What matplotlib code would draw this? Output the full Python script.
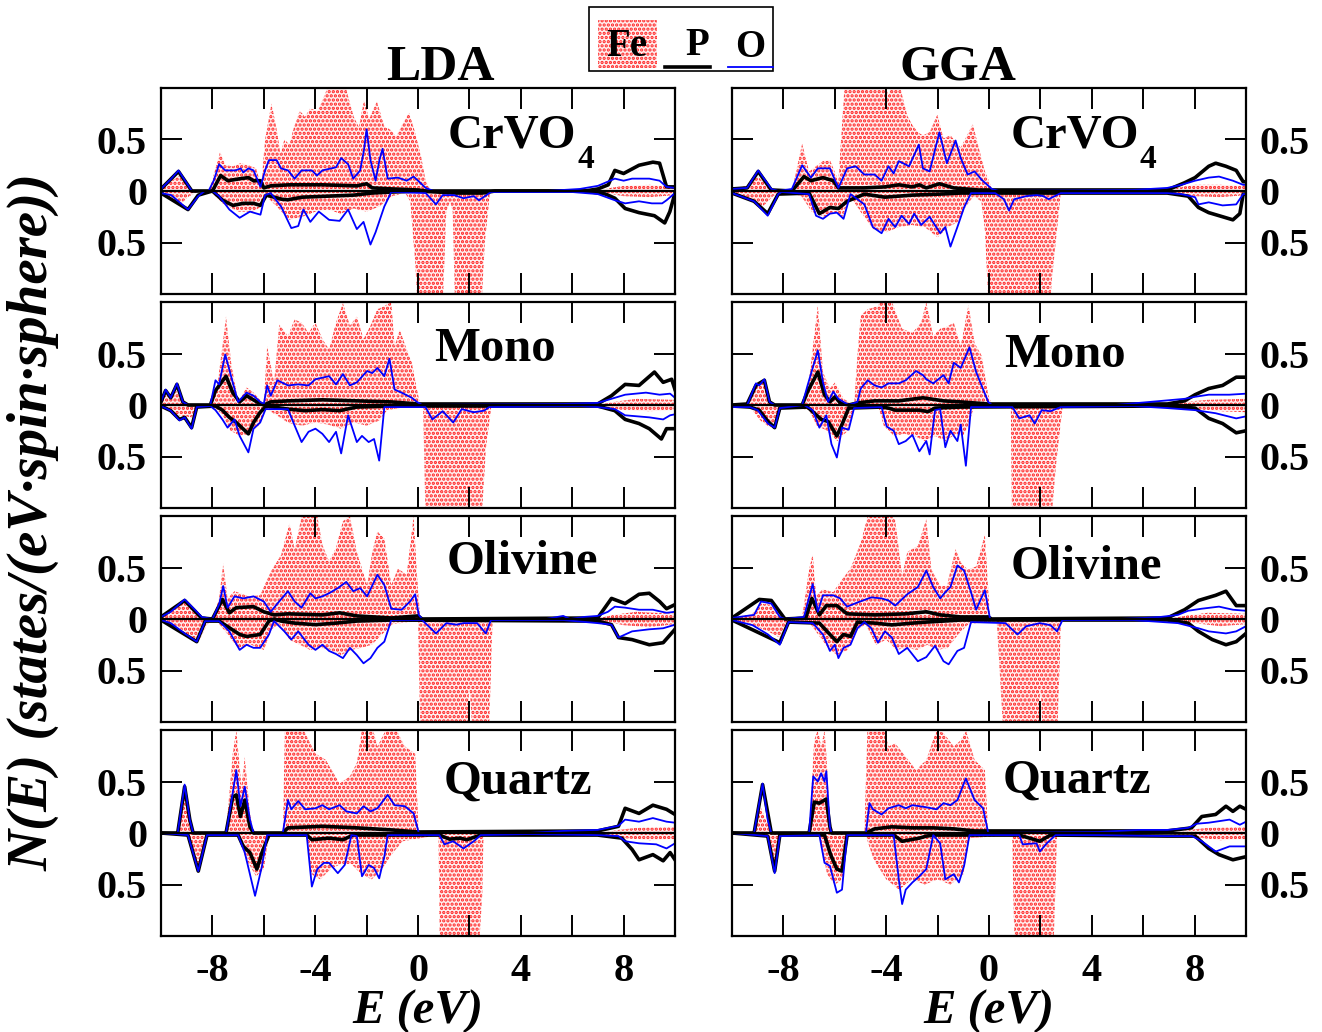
import matplotlib
matplotlib.use("Agg")
import matplotlib.pyplot as plt
import numpy as np
from matplotlib.patches import Rectangle

plt.rcParams.update({"font.family": "Liberation Serif", "font.weight": "bold",
                     "hatch.linewidth": 1.6, "axes.linewidth": 1.5})

# ---- projected DOS, (E [eV], states) pairs; spin-down given as magnitudes ----
# LDA / CrVO4
LDA_CRVO4_FE_UP = [(-10, 0.02), (-9.7, 0.08), (-9.3, 0.15), (-8.9, 0.02), (-8.5, 0), (-8.1, 0.02), (-7.9, 0.2), (-7.7, 0.38), (-7.5, 0.25), (-7.2, 0.24), (-6.9, 0.27), (-6.6, 0.25), (-6.3, 0.22), (-6.1, 0.05), (-5.95, 0.5), (-5.7, 0.85), (-5.5, 0.6), (-5.35, 0.36), (-5.2, 0.5), (-5.0, 0.45), (-4.85, 0.6), (-4.6, 0.78), (-4.4, 0.72), (-4.2, 0.8), (-3.9, 0.78), (-3.6, 0.95), (-3.3, 1.2), (-3.0, 1.2), (-2.7, 0.9), (-2.5, 0.72), (-2.3, 0.62), (-2.1, 0.88), (-1.9, 0.7), (-1.6, 0.87), (-1.3, 0.62), (-1.1, 0.6), (-0.85, 0.53), (-0.6, 0.65), (-0.35, 0.76), (-0.15, 0.6), (0.1, 0.36), (0.3, 0.1), (0.5, 0), (7.0, 0), (7.5, 0.03), (8.0, 0.05), (9.0, 0.06), (10, 0.04)]
LDA_CRVO4_FE_DN = [(-10, 0.02), (-9.3, 0.14), (-8.9, 0.05), (-8.5, 0), (-8.0, 0.02), (-7.6, 0.12), (-7.0, 0.2), (-6.4, 0.2), (-6.1, 0.15), (-5.9, 0.05), (-5.5, 0.15), (-5.0, 0.28), (-4.5, 0.25), (-4.0, 0.2), (-3.5, 0.18), (-3.0, 0.22), (-2.5, 0.17), (-2.0, 0.2), (-1.5, 0.15), (-1.0, 0.05), (-0.5, 0.02), (-0.3, 0.1), (-0.1, 0.72), (0.0, 1.2), (0.95, 1.2), (1.1, 0.2), (1.25, 0.1), (1.35, 0.2), (1.45, 1.2), (2.45, 1.2), (2.6, 0.5), (2.8, 0.02), (3.0, 0), (7.0, 0.01), (8.0, 0.05), (9.0, 0.06), (10, 0.04)]
LDA_CRVO4_P_UP = [(-10, 0.02), (-9.32, 0.19), (-8.8, 0), (-8.0, 0), (-7.68, 0.15), (-7.4, 0.1), (-6.9, 0.12), (-6.6, 0.13), (-6.4, 0.1), (-6.13, 0.1), (-6.0, 0.03), (-5.73, 0.05), (-5.0, 0.06), (-3.72, 0.06), (-2.38, 0.05), (-2.0, 0.07), (-1.78, 0.03), (-1.0, 0.02), (0, 0.01), (0.3, 0), (6.5, 0), (7.0, 0.02), (7.4, 0.06), (7.66, 0.2), (8.0, 0.17), (8.6, 0.25), (9.14, 0.28), (9.4, 0.27), (9.67, 0.04), (10, 0.04)]
LDA_CRVO4_P_DN = [(-10, 0.02), (-8.95, 0.18), (-8.55, 0.04), (-8.0, 0), (-7.6, 0.09), (-7.2, 0.14), (-6.8, 0.12), (-6.4, 0.12), (-6.13, 0.14), (-5.9, 0.04), (-5.3, 0.08), (-5.06, 0.085), (-4.5, 0.06), (-3.5, 0.05), (-2.5, 0.04), (-1.8, 0.02), (-1.0, 0.01), (0, 0), (1.5, 0.02), (2.5, 0.02), (3.0, 0), (6.5, 0), (7.3, 0.03), (7.66, 0.07), (8.06, 0.17), (8.6, 0.21), (9.2, 0.24), (9.6, 0.31), (9.8, 0.2), (10, 0.02)]
LDA_CRVO4_O_UP = [(-10, 0.02), (-9.6, 0.12), (-9.32, 0.2), (-8.8, 0), (-8.15, 0), (-7.95, 0.1), (-7.74, 0.26), (-7.5, 0.2), (-7.1, 0.2), (-6.9, 0.22), (-6.8, 0.18), (-6.6, 0.22), (-6.4, 0.2), (-6.13, 0.04), (-5.95, 0.2), (-5.8, 0.3), (-5.5, 0.3), (-5.33, 0.22), (-5.06, 0.2), (-4.8, 0.12), (-4.53, 0.2), (-4.13, 0.2), (-3.93, 0.15), (-3.72, 0.2), (-3.19, 0.23), (-2.99, 0.32), (-2.72, 0.26), (-2.52, 0.12), (-2.25, 0.2), (-2.1, 0.4), (-2.0, 0.6), (-1.85, 0.3), (-1.65, 0.1), (-1.5, 0.3), (-1.38, 0.41), (-1.18, 0.12), (-0.78, 0.13), (-0.44, 0.1), (-0.17, 0.14), (0.3, 0.03), (0.6, 0), (5.0, 0), (6.3, 0.02), (7.0, 0.05), (7.66, 0.12), (8.0, 0.1), (8.33, 0.12), (9.0, 0.12), (9.4, 0.1), (9.67, 0.04), (10, 0.03)]
LDA_CRVO4_O_DN = [(-10, 0.02), (-9.6, 0.04), (-8.95, 0.18), (-8.55, 0.05), (-8.3, 0), (-8.0, 0), (-7.74, 0.05), (-7.34, 0.18), (-6.94, 0.26), (-6.54, 0.2), (-6.13, 0.23), (-5.95, 0.04), (-5.73, 0.02), (-5.33, 0.15), (-4.93, 0.36), (-4.66, 0.34), (-4.46, 0.18), (-4.19, 0.3), (-3.86, 0.2), (-3.46, 0.28), (-3.05, 0.29), (-2.72, 0.18), (-2.38, 0.37), (-2.12, 0.3), (-1.85, 0.52), (-1.65, 0.4), (-1.31, 0.15), (-1.04, 0.01), (0.3, 0.02), (0.7, 0.13), (0.96, 0.04), (1.4, 0.04), (1.77, 0.07), (2.17, 0.05), (2.37, 0.09), (2.84, 0.01), (6.0, 0.01), (7.0, 0.03), (7.66, 0.09), (8.06, 0.12), (8.6, 0.1), (9.1, 0.12), (9.5, 0.12), (9.67, 0.09), (10, 0.02)]

# GGA / CrVO4
GGA_CRVO4_FE_UP = [(-10, 0.02), (-9.4, 0.05), (-9.0, 0.14), (-8.5, 0.03), (-8.2, 0), (-7.67, 0), (-7.27, 0.46), (-7.0, 0.19), (-6.73, 0.24), (-6.46, 0.29), (-6.19, 0.3), (-5.86, 0.1), (-5.6, 1.1), (-5.12, 1.2), (-4.32, 1.2), (-3.91, 0.93), (-3.65, 1.2), (-3.38, 0.93), (-3.18, 0.73), (-2.98, 0.64), (-2.77, 0.57), (-2.57, 0.54), (-2.31, 0.57), (-2.01, 0.74), (-1.77, 0.51), (-1.5, 0.54), (-1.1, 0.42), (-0.63, 0.65), (-0.43, 0.45), (-0.16, 0.19), (0.11, 0.03), (0.24, 0), (6.9, 0), (7.5, 0.04), (8.0, 0.06), (9.0, 0.06), (10, 0.05)]
GGA_CRVO4_FE_DN = [(-10, 0.02), (-9.4, 0.06), (-8.8, 0.15), (-8.4, 0.05), (-8.0, 0), (-7.3, 0.05), (-6.9, 0.2), (-6.4, 0.25), (-6.0, 0.2), (-5.7, 0.25), (-5.4, 0.05), (-5.0, 0.2), (-4.5, 0.37), (-4.0, 0.4), (-3.5, 0.35), (-3.0, 0.33), (-2.5, 0.35), (-2.0, 0.45), (-1.6, 0.35), (-1.2, 0.3), (-0.9, 0.15), (-0.6, 0.05), (-0.3, 0.1), (-0.16, 0.38), (0.0, 1.2), (2.35, 1.2), (2.45, 0.85), (2.79, 0.03), (3.0, 0), (7.0, 0.01), (8.0, 0.05), (9.0, 0.06), (10, 0.04)]
GGA_CRVO4_P_UP = [(-10, 0.02), (-9.41, 0.03), (-8.98, 0.19), (-8.47, 0.01), (-7.67, 0), (-7.2, 0.14), (-6.93, 0.1), (-6.46, 0.13), (-6.06, 0.1), (-5.86, 0.03), (-5.52, 0.03), (-4.85, 0.03), (-4.05, 0.04), (-3.51, 0.06), (-2.98, 0.04), (-2.71, 0.06), (-2.44, 0.03), (-1.93, 0.07), (-1.37, 0.03), (-0.43, 0.01), (6.94, 0.01), (7.61, 0.08), (8.02, 0.13), (8.55, 0.24), (8.82, 0.27), (9.22, 0.24), (9.62, 0.2), (9.89, 0.09), (10, 0.09)]
GGA_CRVO4_P_DN = [(-10, 0.02), (-9.14, 0.1), (-8.61, 0.22), (-8.2, 0.03), (-7.0, 0.02), (-6.6, 0.22), (-6.19, 0.16), (-5.86, 0.17), (-5.52, 0.1), (-4.85, 0.03), (-4.05, 0.06), (-2.98, 0.04), (-1.9, 0.03), (-1.1, 0.02), (6.94, 0.02), (7.75, 0.05), (8.15, 0.16), (8.55, 0.21), (9.09, 0.25), (9.49, 0.28), (9.76, 0.22), (9.89, 0.03), (10, 0.03)]
GGA_CRVO4_O_UP = [(-10, 0.02), (-9.41, 0.03), (-8.98, 0.2), (-8.47, 0.02), (-8.2, 0), (-7.67, 0.02), (-7.27, 0.25), (-6.93, 0.13), (-6.66, 0.22), (-6.19, 0.22), (-5.86, 0.03), (-5.52, 0.22), (-5.19, 0.24), (-4.85, 0.16), (-4.45, 0.16), (-4.18, 0.1), (-3.91, 0.24), (-3.71, 0.17), (-3.51, 0.29), (-3.11, 0.24), (-2.73, 0.45), (-2.57, 0.22), (-2.31, 0.19), (-1.93, 0.57), (-1.64, 0.27), (-1.3, 0.49), (-1.1, 0.32), (-0.83, 0.16), (-0.56, 0.19), (-0.29, 0.11), (0.11, 0.02), (0.38, 0), (5.6, 0.01), (6.94, 0.03), (7.48, 0.06), (8.02, 0.1), (8.55, 0.13), (8.95, 0.14), (9.49, 0.1), (9.89, 0.06), (10, 0.06)]
GGA_CRVO4_O_DN = [(-10, 0.02), (-9.14, 0.1), (-8.61, 0.24), (-8.2, 0.03), (-8.07, 0.01), (-7.0, 0.03), (-6.73, 0.24), (-6.46, 0.27), (-6.19, 0.22), (-5.92, 0.21), (-5.66, 0.27), (-5.39, 0.03), (-4.85, 0.13), (-4.52, 0.35), (-4.18, 0.41), (-3.91, 0.27), (-3.65, 0.35), (-3.4, 0.24), (-3.11, 0.32), (-2.91, 0.22), (-2.64, 0.33), (-2.31, 0.25), (-1.9, 0.41), (-1.7, 0.35), (-1.5, 0.54), (-1.23, 0.35), (-0.97, 0.16), (-0.7, 0.02), (0.24, 0.02), (0.58, 0.08), (0.78, 0.19), (0.98, 0.08), (1.45, 0.05), (1.85, 0.04), (2.12, 0.05), (2.32, 0.08), (2.79, 0.02), (6.94, 0.02), (7.48, 0.03), (8.02, 0.06), (8.15, 0.13), (8.55, 0.11), (9.09, 0.14), (9.62, 0.13), (9.89, 0.03), (10, 0.03)]

# LDA / Mono
LDA_MONO_FE_UP = [(-10, 0.03), (-9.8, 0.1), (-9.6, 0.06), (-9.4, 0.14), (-9.1, 0.02), (-8.9, 0), (-8.08, 0), (-7.81, 0.19), (-7.61, 0.57), (-7.47, 0.86), (-7.27, 0.41), (-7.0, 0.03), (-6.67, 0.17), (-6.4, 0.12), (-6.0, 0.01), (-5.87, 0.57), (-5.6, 0.22), (-5.4, 0.78), (-5.06, 0.67), (-4.8, 0.83), (-4.53, 0.8), (-4.26, 0.7), (-3.99, 0.8), (-3.72, 0.64), (-3.46, 0.54), (-3.19, 0.8), (-2.92, 0.99), (-2.65, 0.77), (-2.38, 0.86), (-2.12, 0.64), (-1.85, 0.77), (-1.58, 0.93), (-1.31, 0.96), (-1.04, 1.0), (-0.91, 0.57), (-0.71, 0.73), (-0.44, 0.54), (-0.24, 0.41), (-0.04, 0.15), (0.09, 0), (7.0, 0), (7.6, 0.03), (8.5, 0.06), (10, 0.05)]
LDA_MONO_FE_DN = [(-10, 0.02), (-9.3, 0.1), (-8.8, 0.12), (-8.6, 0.02), (-8.0, 0), (-7.6, 0.1), (-7.3, 0.25), (-6.9, 0.3), (-6.6, 0.28), (-6.2, 0.2), (-5.95, 0.03), (-5.5, 0.1), (-5.0, 0.18), (-4.5, 0.2), (-4.0, 0.17), (-3.5, 0.19), (-3.0, 0.23), (-2.5, 0.17), (-2.0, 0.2), (-1.5, 0.15), (-1.2, 0.05), (-0.5, 0.02), (0.2, 0.03), (0.3, 1.2), (1.9, 1.2), (2.0, 0.8), (2.1, 1.2), (2.45, 1.2), (2.65, 0.4), (2.85, 0.02), (3.0, 0), (7.0, 0.01), (8.0, 0.05), (9.0, 0.06), (10, 0.05)]
LDA_MONO_P_UP = [(-10, 0.03), (-9.82, 0.14), (-9.62, 0.07), (-9.38, 0.2), (-9.15, 0.03), (-8.95, 0), (-8.08, 0), (-7.88, 0.14), (-7.47, 0.28), (-7.21, 0.12), (-6.94, 0.03), (-6.67, 0.09), (-6.27, 0.03), (-6.0, 0), (-5.73, 0.03), (-5.06, 0.04), (-3.72, 0.05), (-2.38, 0.04), (-1.04, 0.03), (0, 0.01), (6.99, 0.01), (7.53, 0.09), (8.06, 0.2), (8.6, 0.19), (9.2, 0.32), (9.54, 0.22), (9.87, 0.25), (10, 0.15)]
LDA_MONO_P_DN = [(-10, 0.01), (-9.62, 0.055), (-9.28, 0.14), (-9.08, 0.12), (-8.81, 0.22), (-8.61, 0.02), (-7.88, 0.01), (-7.61, 0.05), (-7.34, 0.12), (-7.07, 0.17), (-6.6, 0.28), (-6.4, 0.17), (-6.14, 0.07), (-5.9, 0.01), (-5.06, 0.04), (-4.39, 0.055), (-3.72, 0.045), (-3.05, 0.055), (-2.38, 0.02), (-1.04, 0.01), (6.99, 0.01), (7.66, 0.055), (8.06, 0.14), (8.6, 0.18), (9.0, 0.23), (9.47, 0.33), (9.67, 0.23), (10, 0.23)]
LDA_MONO_O_UP = [(-10, 0.03), (-9.82, 0.15), (-9.62, 0.07), (-9.38, 0.21), (-9.15, 0.03), (-8.95, 0), (-8.08, 0), (-7.88, 0.24), (-7.74, 0.2), (-7.5, 0.49), (-7.21, 0.22), (-7.0, 0.03), (-6.67, 0.12), (-6.4, 0.09), (-6.14, 0.03), (-6.0, 0.01), (-5.87, 0.19), (-5.73, 0.09), (-5.47, 0.24), (-5.06, 0.19), (-4.66, 0.2), (-4.26, 0.19), (-3.99, 0.25), (-3.46, 0.28), (-3.19, 0.2), (-2.92, 0.3), (-2.65, 0.19), (-2.38, 0.22), (-1.98, 0.33), (-1.78, 0.31), (-1.58, 0.36), (-1.31, 0.28), (-1.11, 0.45), (-0.91, 0.15), (-0.64, 0.12), (-0.24, 0.07), (-0.04, 0.03), (0.16, 0), (5.65, 0.01), (6.99, 0.02), (7.66, 0.07), (8.06, 0.1), (8.87, 0.12), (9.4, 0.1), (9.81, 0.11), (10, 0.07)]
LDA_MONO_O_DN = [(-10, 0.01), (-9.62, 0.055), (-9.28, 0.15), (-9.08, 0.12), (-8.81, 0.23), (-8.61, 0.02), (-8.08, 0.01), (-7.88, 0.05), (-7.61, 0.14), (-7.41, 0.22), (-7.14, 0.14), (-6.94, 0.3), (-6.6, 0.46), (-6.4, 0.23), (-6.14, 0.17), (-5.93, 0.04), (-5.06, 0.04), (-4.8, 0.2), (-4.53, 0.36), (-4.26, 0.26), (-3.99, 0.23), (-3.72, 0.28), (-3.46, 0.36), (-3.19, 0.26), (-2.99, 0.47), (-2.72, 0.1), (-2.38, 0.36), (-2.18, 0.3), (-1.92, 0.36), (-1.71, 0.33), (-1.51, 0.54), (-1.31, 0.02), (0.29, 0.02), (0.56, 0.14), (0.96, 0.06), (1.37, 0.17), (1.7, 0.04), (2.17, 0.07), (2.57, 0.055), (2.77, 0.02), (6.32, 0.01), (6.99, 0.02), (7.66, 0.04), (8.06, 0.1), (9.0, 0.12), (9.54, 0.14), (9.81, 0.1), (10, 0.09)]

# GGA / Mono
GGA_MONO_FE_UP = [(-10, 0), (-9.4, 0), (-9.1, 0.18), (-8.8, 0.24), (-8.54, 0.05), (-8.34, 0), (-7.27, 0), (-7.0, 0.25), (-6.66, 0.97), (-6.46, 0.32), (-6.19, 0.16), (-5.99, 0.22), (-5.66, 0.06), (-5.25, 0), (-5.12, 0.48), (-4.99, 0.87), (-4.72, 0.93), (-4.32, 0.96), (-4.05, 1.1), (-3.78, 1.0), (-3.38, 0.74), (-2.98, 0.7), (-2.64, 0.8), (-2.44, 1.0), (-2.17, 0.67), (-1.9, 0.74), (-1.64, 0.76), (-1.37, 0.8), (-1.1, 0.57), (-0.8, 0.97), (-0.56, 0.6), (-0.29, 0.48), (-0.03, 0.1), (0.11, 0), (7.0, 0), (7.6, 0.03), (8.5, 0.05), (10, 0.06)]
GGA_MONO_FE_DN = [(-10, 0.01), (-9.3, 0.02), (-8.9, 0.15), (-8.5, 0.22), (-8.2, 0.1), (-8.0, 0), (-7.0, 0.05), (-6.7, 0.2), (-6.3, 0.25), (-5.9, 0.35), (-5.5, 0.25), (-5.25, 0.03), (-4.3, 0.02), (-4.1, 0.2), (-3.7, 0.3), (-3.3, 0.28), (-2.9, 0.3), (-2.5, 0.35), (-2.1, 0.3), (-1.7, 0.35), (-1.3, 0.28), (-1.0, 0.3), (-0.8, 0.2), (-0.6, 0.03), (0.85, 0.03), (0.9, 1.2), (2.4, 1.2), (2.6, 0.6), (2.86, 0.02), (3.0, 0), (7.0, 0.01), (8.0, 0.04), (9.0, 0.06), (10, 0.07)]
GGA_MONO_P_UP = [(-10, 0), (-9.41, 0.01), (-9.07, 0.19), (-8.74, 0.24), (-8.54, 0.03), (-8.34, 0), (-7.27, 0), (-7.06, 0.13), (-6.66, 0.32), (-6.4, 0.1), (-6.19, 0.03), (-5.99, 0.08), (-5.79, 0.02), (-5.46, 0), (-5.12, 0.02), (-4.45, 0.04), (-3.51, 0.04), (-2.57, 0.07), (-1.77, 0.04), (-1.1, 0.03), (-0.03, 0.01), (6.94, 0.01), (7.61, 0.04), (8.02, 0.1), (8.55, 0.16), (9.09, 0.19), (9.62, 0.27), (10, 0.27)]
GGA_MONO_P_DN = [(-10, 0.01), (-9.3, 0.02), (-8.94, 0.05), (-8.6, 0.16), (-8.34, 0.22), (-8.14, 0.03), (-7.06, 0.02), (-6.66, 0.11), (-6.53, 0.14), (-6.26, 0.16), (-5.92, 0.3), (-5.72, 0.19), (-5.46, 0.03), (-4.18, 0.02), (-3.91, 0.03), (-3.65, 0.05), (-3.24, 0.05), (-2.71, 0.05), (-2.37, 0.064), (-2.1, 0.03), (-1.1, 0.02), (6.94, 0.01), (8.02, 0.03), (8.55, 0.13), (9.09, 0.18), (9.62, 0.27), (10, 0.25)]
GGA_MONO_O_UP = [(-10, 0), (-9.41, 0), (-9.07, 0.21), (-8.94, 0.19), (-8.74, 0.25), (-8.54, 0.03), (-8.34, 0), (-7.27, 0), (-7.06, 0.19), (-6.66, 0.53), (-6.46, 0.22), (-6.26, 0.03), (-6.06, 0.13), (-5.86, 0.06), (-5.46, 0), (-5.12, 0.03), (-4.99, 0.16), (-4.72, 0.24), (-4.45, 0.19), (-4.18, 0.17), (-3.91, 0.21), (-3.51, 0.21), (-3.24, 0.24), (-2.84, 0.33), (-2.57, 0.29), (-2.44, 0.25), (-2.17, 0.21), (-1.77, 0.29), (-1.57, 0.21), (-1.37, 0.41), (-1.1, 0.36), (-0.76, 0.56), (-0.5, 0.32), (-0.29, 0.19), (-0.03, 0.03), (0.11, 0), (4.9, 0), (6.27, 0.03), (7.61, 0.06), (8.02, 0.08), (8.55, 0.1), (9.35, 0.1), (10, 0.11)]
GGA_MONO_O_DN = [(-10, 0.02), (-9.3, 0.02), (-9.0, 0.05), (-8.6, 0.18), (-8.34, 0.22), (-8.14, 0.03), (-7.2, 0), (-6.86, 0.05), (-6.6, 0.22), (-6.33, 0.1), (-6.13, 0.38), (-5.92, 0.51), (-5.72, 0.22), (-5.46, 0.24), (-5.25, 0.03), (-4.18, 0.02), (-3.98, 0.21), (-3.71, 0.25), (-3.51, 0.38), (-3.24, 0.35), (-2.98, 0.29), (-2.71, 0.45), (-2.44, 0.35), (-2.31, 0.48), (-2.1, 0.05), (-1.9, 0.04), (-1.7, 0.41), (-1.5, 0.25), (-1.23, 0.35), (-1.1, 0.19), (-0.9, 0.59), (-0.7, 0.02), (0.91, 0.02), (1.18, 0.13), (1.58, 0.1), (1.78, 0.18), (2.05, 0.05), (2.39, 0.06), (2.79, 0.02), (5.6, 0.01), (6.94, 0.03), (8.02, 0.05), (8.82, 0.08), (9.62, 0.13), (10, 0.11)]

# LDA / Olivine
LDA_OLIV_FE_UP = [(-10, 0.02), (-9.62, 0.06), (-9.1, 0.17), (-8.6, 0.05), (-8.4, 0), (-8.0, 0), (-7.74, 0.2), (-7.58, 0.54), (-7.41, 0.2), (-7.14, 0.27), (-6.6, 0.22), (-6.14, 0.23), (-5.73, 0.46), (-5.33, 0.62), (-5.0, 0.93), (-4.8, 0.68), (-4.53, 0.99), (-4.26, 1.1), (-3.99, 1.1), (-3.72, 0.72), (-3.46, 0.56), (-3.19, 0.69), (-2.92, 0.95), (-2.65, 1.0), (-2.38, 0.65), (-1.98, 0.33), (-1.78, 0.65), (-1.58, 0.85), (-1.31, 0.78), (-1.04, 0.33), (-0.78, 0.49), (-0.44, 0.43), (-0.17, 1.0), (-0.04, 0.43), (0.09, 0), (6.9, 0), (7.6, 0.04), (8.5, 0.07), (10, 0.05)]
LDA_OLIV_FE_DN = [(-10, 0.01), (-9.3, 0.08), (-8.9, 0.18), (-8.5, 0.2), (-8.2, 0.05), (-7.9, 0), (-7.5, 0.12), (-7.0, 0.28), (-6.5, 0.25), (-6.0, 0.3), (-5.7, 0.1), (-5.4, 0.05), (-5.0, 0.2), (-4.6, 0.25), (-4.2, 0.3), (-3.8, 0.28), (-3.4, 0.3), (-3.0, 0.35), (-2.6, 0.3), (-2.2, 0.28), (-1.8, 0.25), (-1.4, 0.15), (-1.0, 0.05), (0.0, 0.02), (0.1, 1.2), (1.9, 1.2), (2.0, 0.65), (2.15, 1.2), (2.75, 1.2), (2.9, 0.02), (3.0, 0), (7.0, 0.01), (8.0, 0.06), (9.0, 0.08), (10, 0.05)]
LDA_OLIV_P_UP = [(-10, 0.02), (-9.08, 0.18), (-8.42, 0.01), (-8.0, 0), (-7.61, 0.19), (-7.34, 0.06), (-7.07, 0.11), (-6.4, 0.12), (-6.0, 0.07), (-5.6, 0.04), (-5.06, 0.05), (-3.72, 0.04), (-3.05, 0.06), (-2.38, 0.03), (-1.04, 0.01), (0, 0.03), (0.16, 0), (6.99, 0.01), (7.53, 0.2), (8.06, 0.15), (8.6, 0.24), (9.0, 0.25), (9.4, 0.17), (9.67, 0.1), (10, 0.14)]
LDA_OLIV_P_DN = [(-10, 0.01), (-8.61, 0.22), (-8.28, 0.02), (-7.74, 0.02), (-6.94, 0.15), (-6.67, 0.17), (-6.14, 0.15), (-5.8, 0.02), (-5.6, 0), (-5.33, 0.02), (-4.8, 0.04), (-3.99, 0.055), (-3.19, 0.04), (-2.38, 0.02), (-1.04, 0.01), (6.99, 0.02), (7.53, 0.055), (7.8, 0.18), (8.33, 0.2), (9.0, 0.25), (9.54, 0.23), (10, 0.1)]
LDA_OLIV_O_UP = [(-10, 0.02), (-9.62, 0.07), (-9.08, 0.19), (-8.68, 0.09), (-8.42, 0.02), (-8.0, 0), (-7.74, 0.14), (-7.58, 0.32), (-7.41, 0.11), (-7.14, 0.22), (-6.8, 0.2), (-6.4, 0.22), (-6.0, 0.17), (-5.73, 0.07), (-5.47, 0.15), (-5.06, 0.27), (-4.8, 0.17), (-4.53, 0.11), (-4.19, 0.25), (-3.99, 0.2), (-3.72, 0.22), (-3.46, 0.25), (-3.12, 0.3), (-2.79, 0.36), (-2.52, 0.27), (-2.25, 0.3), (-1.98, 0.22), (-1.58, 0.43), (-1.31, 0.33), (-1.04, 0.1), (-0.64, 0.09), (-0.31, 0.17), (-0.11, 0.24), (0.03, 0.04), (0.16, 0), (4.98, 0), (5.65, 0.03), (5.92, 0), (6.46, 0.02), (6.99, 0.03), (7.39, 0.07), (7.66, 0.12), (8.06, 0.11), (8.6, 0.09), (9.14, 0.09), (9.67, 0.06), (10, 0.07)]
LDA_OLIV_O_DN = [(-10, 0.01), (-9.62, 0.04), (-9.08, 0.14), (-8.61, 0.22), (-8.28, 0.02), (-7.74, 0.02), (-7.34, 0.12), (-6.94, 0.3), (-6.67, 0.25), (-6.4, 0.28), (-6.14, 0.28), (-5.8, 0.15), (-5.6, 0.02), (-5.2, 0.12), (-4.93, 0.2), (-4.66, 0.12), (-4.26, 0.25), (-3.99, 0.3), (-3.72, 0.25), (-3.46, 0.31), (-3.19, 0.34), (-2.92, 0.38), (-2.65, 0.28), (-2.38, 0.35), (-2.12, 0.43), (-1.85, 0.38), (-1.58, 0.28), (-1.31, 0.22), (-1.04, 0.01), (0.16, 0.01), (0.7, 0.14), (1.1, 0.04), (1.5, 0.055), (1.77, 0.04), (2.3, 0.04), (2.64, 0.14), (2.84, 0.01), (5.65, 0.01), (6.99, 0.04), (7.53, 0.055), (7.8, 0.18), (8.33, 0.12), (9.0, 0.1), (9.54, 0.09), (10, 0.055)]

# GGA / Olivine
GGA_OLIV_FE_UP = [(-10, 0.01), (-9.2, 0.05), (-8.9, 0.15), (-8.5, 0.14), (-8.1, 0.02), (-7.9, 0), (-7.27, 0.02), (-7.0, 0.48), (-6.86, 0.63), (-6.73, 0.23), (-6.46, 0.29), (-6.06, 0.26), (-5.79, 0.36), (-5.39, 0.49), (-4.99, 0.74), (-4.72, 1.0), (-4.18, 1.1), (-3.65, 0.96), (-3.38, 0.42), (-3.18, 0.65), (-2.77, 0.71), (-2.44, 0.97), (-2.24, 0.48), (-1.9, 0.32), (-1.64, 0.32), (-1.3, 0.68), (-1.1, 0.55), (-0.83, 0.48), (-0.5, 0.51), (-0.16, 0.82), (0.04, 0), (7.0, 0), (7.6, 0.03), (8.5, 0.06), (10, 0.05)]
GGA_OLIV_FE_DN = [(-10, 0.01), (-9.2, 0.06), (-8.6, 0.12), (-8.14, 0.18), (-7.8, 0.02), (-7.0, 0.03), (-6.5, 0.2), (-6.2, 0.3), (-5.9, 0.35), (-5.5, 0.3), (-5.1, 0.1), (-4.8, 0.05), (-4.4, 0.25), (-4.0, 0.2), (-3.6, 0.3), (-3.2, 0.28), (-2.8, 0.3), (-2.4, 0.25), (-2.0, 0.3), (-1.6, 0.28), (-1.2, 0.15), (-0.8, 0.05), (0.3, 0.02), (0.58, 1.2), (1.95, 1.2), (2.0, 0.62), (2.1, 1.2), (2.65, 1.2), (2.8, 0.02), (3.0, 0), (7.0, 0.01), (8.0, 0.04), (9.0, 0.07), (10, 0.05)]
GGA_OLIV_P_UP = [(-10, 0.01), (-8.94, 0.19), (-8.47, 0.18), (-7.94, 0), (-7.13, 0.01), (-6.89, 0.2), (-6.6, 0.04), (-6.33, 0.13), (-5.92, 0.13), (-5.52, 0.05), (-4.45, 0.04), (-3.24, 0.05), (-2.44, 0.07), (-1.9, 0.04), (-1.1, 0.02), (-0.03, 0.02), (0.1, 0), (6.94, 0.01), (7.61, 0.09), (8.15, 0.18), (8.82, 0.23), (9.22, 0.27), (9.62, 0.13), (10, 0.13)]
GGA_OLIV_P_DN = [(-10, 0.01), (-8.14, 0.23), (-7.8, 0.03), (-6.6, 0.04), (-6.19, 0.15), (-5.92, 0.22), (-5.66, 0.15), (-5.39, 0.17), (-5.12, 0.03), (-4.45, 0.04), (-3.78, 0.057), (-2.98, 0.04), (-2.44, 0.03), (-1.1, 0.01), (6.94, 0.01), (7.75, 0.04), (8.15, 0.12), (8.69, 0.2), (9.22, 0.25), (9.62, 0.22), (10, 0.14)]
GGA_OLIV_O_UP = [(-10, 0.01), (-9.14, 0.04), (-8.87, 0.17), (-8.47, 0.15), (-8.14, 0.02), (-7.94, 0), (-7.2, 0.02), (-6.86, 0.34), (-6.66, 0.07), (-6.46, 0.23), (-6.06, 0.23), (-5.79, 0.2), (-5.52, 0.12), (-5.12, 0.16), (-4.58, 0.21), (-4.18, 0.2), (-3.91, 0.18), (-3.65, 0.13), (-3.18, 0.24), (-2.77, 0.31), (-2.44, 0.47), (-2.17, 0.31), (-1.9, 0.2), (-1.7, 0.26), (-1.5, 0.31), (-1.23, 0.52), (-0.97, 0.47), (-0.7, 0.26), (-0.5, 0.09), (-0.16, 0.28), (0.04, 0), (5.07, 0), (6.01, 0.01), (6.68, 0.02), (7.35, 0.04), (7.75, 0.08), (8.28, 0.1), (8.95, 0.12), (9.49, 0.09), (10, 0.08)]
GGA_OLIV_O_DN = [(-10, 0.01), (-9.2, 0.06), (-8.6, 0.15), (-8.14, 0.25), (-7.8, 0.03), (-6.86, 0.04), (-6.46, 0.15), (-6.19, 0.31), (-6.0, 0.25), (-5.86, 0.38), (-5.66, 0.28), (-5.39, 0.25), (-5.12, 0.09), (-4.85, 0.03), (-4.58, 0.09), (-4.32, 0.23), (-4.05, 0.12), (-3.78, 0.18), (-3.51, 0.34), (-3.18, 0.28), (-2.77, 0.41), (-2.44, 0.37), (-2.1, 0.26), (-1.77, 0.41), (-1.57, 0.44), (-1.23, 0.31), (-0.97, 0.28), (-0.7, 0.03), (0.64, 0.04), (1.11, 0.15), (1.45, 0.07), (1.98, 0.04), (2.39, 0.06), (2.65, 0.12), (2.86, 0.01), (5.6, 0.01), (7.35, 0.04), (8.15, 0.09), (8.55, 0.12), (9.22, 0.14), (9.62, 0.12), (10, 0.07)]

# LDA / Quartz
LDA_QUARTZ_FE_UP = [(-10, 0), (-9.35, 0), (-9.08, 0.35), (-8.82, 0), (-7.47, 0), (-7.21, 0.77), (-7.07, 1.0), (-6.87, 0.45), (-6.74, 0.74), (-6.54, 0.19), (-6.4, 0), (-5.26, 0), (-5.17, 1.1), (-4.66, 1.1), (-3.99, 0.77), (-3.59, 0.71), (-3.05, 0.48), (-2.65, 0.55), (-2.38, 0.68), (-2.12, 1.1), (-1.85, 1.1), (-1.58, 0.84), (-1.04, 1.1), (-0.51, 0.84), (-0.11, 0.77), (0.03, 0), (7.0, 0), (7.8, 0.03), (8.5, 0.05), (10, 0.06)]
LDA_QUARTZ_FE_DN = [(-10, 0), (-8.95, 0.02), (-8.55, 0.32), (-8.21, 0.02), (-7.0, 0.03), (-6.7, 0.25), (-6.3, 0.42), (-6.0, 0.35), (-5.8, 0.02), (-4.35, 0.02), (-4.15, 0.4), (-3.8, 0.45), (-3.4, 0.35), (-3.0, 0.3), (-2.6, 0.3), (-2.2, 0.4), (-1.8, 0.45), (-1.4, 0.35), (-1.0, 0.2), (-0.6, 0.08), (0.8, 0.02), (0.85, 1.2), (2.35, 1.2), (2.5, 0.6), (2.55, 0.02), (7.0, 0.01), (8.0, 0.05), (9.0, 0.07), (10, 0.06)]
LDA_QUARTZ_P_UP = [(-10, 0), (-9.35, 0), (-9.08, 0.45), (-8.88, 0.13), (-8.75, 0), (-7.47, 0), (-7.21, 0.35), (-7.07, 0.37), (-6.91, 0.16), (-6.74, 0.32), (-6.54, 0.06), (-6.4, 0), (-5.26, 0), (-5.06, 0.05), (-3.72, 0.065), (-2.38, 0.05), (-1.04, 0.03), (0.0, 0.01), (6.99, 0.02), (7.8, 0.065), (8.06, 0.24), (8.6, 0.19), (9.14, 0.27), (9.67, 0.23), (10, 0.18)]
LDA_QUARTZ_P_DN = [(-10, 0), (-8.95, 0.02), (-8.55, 0.37), (-8.21, 0.02), (-7.0, 0.02), (-6.8, 0.13), (-6.54, 0.19), (-6.27, 0.35), (-6.07, 0.19), (-5.8, 0.02), (-4.33, 0.02), (-4.13, 0.065), (-3.46, 0.05), (-2.92, 0.065), (-2.52, 0.02), (0.83, 0.02), (1.23, 0.06), (1.63, 0.05), (1.9, 0.065), (2.44, 0.02), (6.99, 0.02), (7.93, 0.05), (8.33, 0.16), (8.6, 0.26), (9.14, 0.21), (9.54, 0.27), (9.81, 0.19), (10, 0.26)]
LDA_QUARTZ_O_UP = [(-10, 0), (-9.35, 0), (-9.08, 0.47), (-8.88, 0.13), (-8.75, 0), (-7.47, 0), (-7.27, 0.29), (-7.07, 0.61), (-6.91, 0.26), (-6.74, 0.45), (-6.54, 0.13), (-6.4, 0), (-5.26, 0), (-5.06, 0.32), (-4.93, 0.23), (-4.66, 0.31), (-4.39, 0.23), (-3.99, 0.24), (-3.72, 0.27), (-3.46, 0.23), (-3.05, 0.27), (-2.79, 0.21), (-2.38, 0.19), (-2.12, 0.26), (-1.85, 0.21), (-1.58, 0.24), (-1.18, 0.37), (-0.91, 0.27), (-0.51, 0.26), (-0.17, 0.19), (0.03, 0), (4.31, 0), (5.65, 0.02), (6.99, 0.03), (7.8, 0.07), (8.06, 0.13), (8.6, 0.11), (9.14, 0.145), (9.67, 0.11), (10, 0.1)]
LDA_QUARTZ_O_DN = [(-10, 0), (-8.95, 0.02), (-8.55, 0.37), (-8.21, 0.02), (-7.0, 0.02), (-6.74, 0.19), (-6.34, 0.61), (-6.07, 0.32), (-5.87, 0.02), (-4.33, 0.02), (-4.13, 0.52), (-3.92, 0.35), (-3.66, 0.29), (-3.46, 0.29), (-3.12, 0.39), (-2.85, 0.31), (-2.59, 0.02), (-2.38, 0.03), (-2.18, 0.42), (-1.92, 0.31), (-1.71, 0.34), (-1.51, 0.44), (-1.31, 0.23), (-1.18, 0.02), (0.83, 0.02), (1.03, 0.11), (1.37, 0.08), (1.77, 0.15), (2.17, 0.08), (2.44, 0.02), (4.31, 0.01), (6.99, 0.02), (7.8, 0.03), (8.06, 0.08), (8.6, 0.1), (9.27, 0.11), (9.67, 0.15), (10, 0.1)]

# GGA / Quartz
GGA_QUARTZ_FE_UP = [(-10, 0), (-9.14, 0), (-8.9, 0.26), (-8.47, 0), (-7.0, 0), (-6.8, 0.9), (-6.66, 1.0), (-6.53, 0.84), (-6.4, 1.0), (-6.33, 0.77), (-6.19, 0.13), (-6.06, 0), (-4.85, 0), (-4.72, 1.1), (-4.18, 1.1), (-3.91, 0.84), (-3.65, 0.87), (-3.24, 0.74), (-2.84, 0.61), (-2.44, 0.71), (-2.04, 1.0), (-1.77, 0.97), (-1.37, 0.84), (-1.1, 0.9), (-0.9, 1.0), (-0.56, 0.71), (-0.16, 0.61), (-0.03, 0), (7.0, 0), (7.8, 0.03), (8.5, 0.05), (10, 0.06)]
GGA_QUARTZ_FE_DN = [(-10, 0), (-8.6, 0.03), (-8.34, 0.35), (-8.14, 0.03), (-6.6, 0.02), (-6.3, 0.4), (-6.0, 0.5), (-5.7, 0.45), (-5.52, 0.02), (-4.8, 0.02), (-4.5, 0.25), (-4.0, 0.45), (-3.5, 0.55), (-3.0, 0.45), (-2.5, 0.5), (-2.0, 0.45), (-1.5, 0.5), (-1.0, 0.4), (-0.76, 0.05), (0.9, 0.02), (1.0, 1.2), (2.5, 1.2), (2.65, 0.02), (7.0, 0.01), (8.0, 0.04), (9.0, 0.07), (10, 0.06)]
GGA_QUARTZ_P_UP = [(-10, 0), (-9.14, 0), (-8.81, 0.47), (-8.47, 0), (-7.0, 0), (-6.8, 0.3), (-6.6, 0.29), (-6.33, 0.33), (-6.19, 0.06), (-6.13, 0), (-4.79, 0), (-4.45, 0.04), (-3.78, 0.06), (-2.98, 0.05), (-2.17, 0.05), (-1.37, 0.04), (-0.56, 0.02), (6.94, 0.02), (7.88, 0.05), (8.28, 0.16), (8.82, 0.18), (9.22, 0.26), (9.49, 0.21), (9.76, 0.26), (10, 0.23)]
GGA_QUARTZ_P_DN = [(-10, 0), (-8.61, 0.03), (-8.34, 0.37), (-8.14, 0.02), (-6.4, 0.02), (-6.19, 0.19), (-6.13, 0.23), (-5.92, 0.35), (-5.72, 0.37), (-5.52, 0.02), (-3.71, 0.02), (-3.38, 0.08), (-2.71, 0.05), (-2.44, 0.03), (-2.17, 0.02), (1.18, 0.02), (1.31, 0.03), (1.98, 0.08), (2.39, 0.02), (6.94, 0.03), (8.02, 0.03), (8.55, 0.15), (8.95, 0.21), (9.49, 0.26), (10, 0.23)]
GGA_QUARTZ_O_UP = [(-10, 0), (-9.14, 0), (-8.81, 0.48), (-8.61, 0.13), (-8.47, 0), (-7.0, 0), (-6.84, 0.55), (-6.66, 0.5), (-6.53, 0.58), (-6.4, 0.5), (-6.33, 0.6), (-6.19, 0.06), (-6.13, 0), (-4.79, 0), (-4.65, 0.29), (-4.52, 0.23), (-4.18, 0.18), (-3.91, 0.24), (-3.51, 0.27), (-3.24, 0.24), (-2.98, 0.27), (-2.44, 0.25), (-2.04, 0.23), (-1.77, 0.29), (-1.5, 0.27), (-1.23, 0.32), (-0.9, 0.53), (-0.56, 0.32), (-0.23, 0.24), (-0.03, 0), (4.26, 0.01), (5.87, 0.03), (6.94, 0.03), (7.75, 0.05), (8.08, 0.09), (8.55, 0.1), (9.36, 0.13), (9.76, 0.08), (10, 0.11)]
GGA_QUARTZ_O_DN = [(-10, 0), (-8.61, 0.03), (-8.34, 0.39), (-8.14, 0.03), (-6.6, 0.02), (-6.4, 0.29), (-6.19, 0.32), (-5.92, 0.58), (-5.72, 0.55), (-5.52, 0.02), (-3.71, 0.02), (-3.51, 0.45), (-3.38, 0.69), (-3.24, 0.55), (-2.98, 0.48), (-2.71, 0.42), (-2.44, 0.35), (-2.17, 0.02), (-1.9, 0.1), (-1.7, 0.45), (-1.37, 0.4), (-1.17, 0.48), (-0.97, 0.32), (-0.76, 0.02), (1.18, 0.02), (1.31, 0.11), (1.85, 0.1), (1.98, 0.18), (2.25, 0.1), (2.59, 0.02), (4.26, 0.02), (6.94, 0.03), (7.9, 0.03), (8.28, 0.08), (8.82, 0.18), (9.36, 0.13), (10, 0.13)]

METHODS = ["LDA", "GGA"]
PHASES = ["CrVO4", "Mono", "Olivine", "Quartz"]
YTICKS = [-0.5, 0, 0.5]
YTICKLABELS = ["0.5", "0", "0.5"]
XTICKS = [-8, -4, 0, 4, 8]
XTICKS_MINOR = [-6, -2, 2, 6]

PDOS = {
    ("LDA", "CrVO4"): (LDA_CRVO4_FE_UP, LDA_CRVO4_FE_DN, LDA_CRVO4_P_UP, LDA_CRVO4_P_DN, LDA_CRVO4_O_UP, LDA_CRVO4_O_DN),
    ("GGA", "CrVO4"): (GGA_CRVO4_FE_UP, GGA_CRVO4_FE_DN, GGA_CRVO4_P_UP, GGA_CRVO4_P_DN, GGA_CRVO4_O_UP, GGA_CRVO4_O_DN),
    ("LDA", "Mono"): (LDA_MONO_FE_UP, LDA_MONO_FE_DN, LDA_MONO_P_UP, LDA_MONO_P_DN, LDA_MONO_O_UP, LDA_MONO_O_DN),
    ("GGA", "Mono"): (GGA_MONO_FE_UP, GGA_MONO_FE_DN, GGA_MONO_P_UP, GGA_MONO_P_DN, GGA_MONO_O_UP, GGA_MONO_O_DN),
    ("LDA", "Olivine"): (LDA_OLIV_FE_UP, LDA_OLIV_FE_DN, LDA_OLIV_P_UP, LDA_OLIV_P_DN, LDA_OLIV_O_UP, LDA_OLIV_O_DN),
    ("GGA", "Olivine"): (GGA_OLIV_FE_UP, GGA_OLIV_FE_DN, GGA_OLIV_P_UP, GGA_OLIV_P_DN, GGA_OLIV_O_UP, GGA_OLIV_O_DN),
    ("LDA", "Quartz"): (LDA_QUARTZ_FE_UP, LDA_QUARTZ_FE_DN, LDA_QUARTZ_P_UP, LDA_QUARTZ_P_DN, LDA_QUARTZ_O_UP, LDA_QUARTZ_O_DN),
    ("GGA", "Quartz"): (GGA_QUARTZ_FE_UP, GGA_QUARTZ_FE_DN, GGA_QUARTZ_P_UP, GGA_QUARTZ_P_DN, GGA_QUARTZ_O_UP, GGA_QUARTZ_O_DN),
}
# label placement (axes fraction, baseline)
LABEL_POS = {
    ("LDA", "CrVO4"): (0.558, 0.712), ("GGA", "CrVO4"): (0.543, 0.712),
    ("LDA", "Mono"): (0.531, 0.715), ("GGA", "Mono"): (0.529, 0.683),
    ("LDA", "Olivine"): (0.555, 0.72), ("GGA", "Olivine"): (0.543, 0.693),
    ("LDA", "Quartz"): (0.55, 0.693), ("GGA", "Quartz"): (0.527, 0.698),
}

FE_FACE = "#fff0f0"
FE_DOT = "#ff2020"
BLUE = "#0000ff"
HATCH = "...."

W, H = 1322, 1032
fig = plt.figure(figsize=(W / 100, H / 100), dpi=100)
col_x = [161, 732]
row_top = [88, 302, 516, 730]
pw, ph = 514, 206


def xy(pts):
    a = np.asarray(pts, dtype=float)
    return a[:, 0], a[:, 1]


for ci, meth in enumerate(METHODS):
    for ri, phase in enumerate(PHASES):
        ax = fig.add_axes([col_x[ci] / W, 1 - (row_top[ri] + ph) / H, pw / W, ph / H])
        fe_up, fe_dn, p_up, p_dn, o_up, o_dn = PDOS[(meth, phase)]
        e, v = xy(fe_up)
        ax.fill_between(e, 0, v, facecolor=FE_FACE, edgecolor=FE_DOT, hatch=HATCH, lw=0, zorder=1)
        e, v = xy(fe_dn)
        ax.fill_between(e, 0, -v, facecolor=FE_FACE, edgecolor=FE_DOT, hatch=HATCH, lw=0, zorder=1)
        for pts, sgn in ((p_up, 1), (p_dn, -1)):
            e, v = xy(pts)
            ax.plot(e, sgn * v, color="k", lw=2.6, zorder=3, solid_joinstyle="round")
        for pts, sgn in ((o_up, 1), (o_dn, -1)):
            e, v = xy(pts)
            ax.plot(e, sgn * v, color=BLUE, lw=1.3, zorder=4)
        ax.axhline(0, color="k", lw=1.6, zorder=5)

        ax.set_xlim(-10, 10); ax.set_ylim(-1, 1)
        ax.set_xticks(XTICKS); ax.set_xticks(XTICKS_MINOR, minor=True)
        ax.set_xticklabels([str(t) for t in XTICKS])
        ax.set_yticks(YTICKS); ax.set_yticklabels(YTICKLABELS)
        ax.tick_params(which="both", direction="in", length=15, width=1.4,
                       top=True, bottom=True, left=True, right=True, labelsize=29, pad=10)
        ax.tick_params(axis="x", pad=12)
        if ci == 1:
            ax.tick_params(labelleft=False, labelright=True)
        if ri < 3:
            ax.tick_params(labelbottom=False)
        for s in ax.spines.values():
            s.set_linewidth(1.6); s.set_zorder(6)

        lx, ly = LABEL_POS[(meth, phase)]
        if phase == "CrVO4":
            ax.text(lx, ly, "CrVO", transform=ax.transAxes, fontsize=35, va="baseline", ha="left", zorder=7)
            ax.text(lx + (0.253 if ci == 0 else 0.249), ly - 0.1, "4", transform=ax.transAxes,
                    fontsize=24, va="baseline", ha="left", zorder=7)
        else:
            ax.text(lx, ly, phase, transform=ax.transAxes, fontsize=35, va="baseline", ha="left", zorder=7)

# column titles, axis labels
fig.text(440 / W, 1 - 80 / H, "LDA", ha="center", va="baseline", fontsize=37)
fig.text(958 / W, 1 - 80 / H, "GGA", ha="center", va="baseline", fontsize=37)
for cx in (418, 989):
    fig.text(cx / W, 1 - 1024 / H, "E (eV)", ha="center", va="baseline", fontsize=35, style="italic")
fig.text(33 / W, 0.494, "N(E) (states/(eV\u00b7spin\u00b7sphere))", rotation=90,
         ha="center", va="center", fontsize=41, style="italic")

# legend box drawn in pixel space
lg = fig.add_axes([0, 0, 1, 1], zorder=10)
lg.set_xlim(0, W); lg.set_ylim(H, 0); lg.axis("off")
lg.add_patch(Rectangle((589, 7), 184, 64, fill=False, ec="k", lw=1.2))
lg.add_patch(Rectangle((598, 20), 59, 48, facecolor=FE_FACE, edgecolor=FE_DOT, hatch=HATCH, lw=0))
lg.text(627, 56, "Fe", ha="center", va="baseline", fontsize=28)
lg.text(697, 55, "P", ha="center", va="baseline", fontsize=28)
lg.plot([665, 710], [67, 67], color="k", lw=2.6)
lg.text(750, 57, "O", ha="center", va="baseline", fontsize=28)
lg.plot([728, 773], [67, 67], color=BLUE, lw=1.3)

fig.savefig("out.png", dpi=100)
